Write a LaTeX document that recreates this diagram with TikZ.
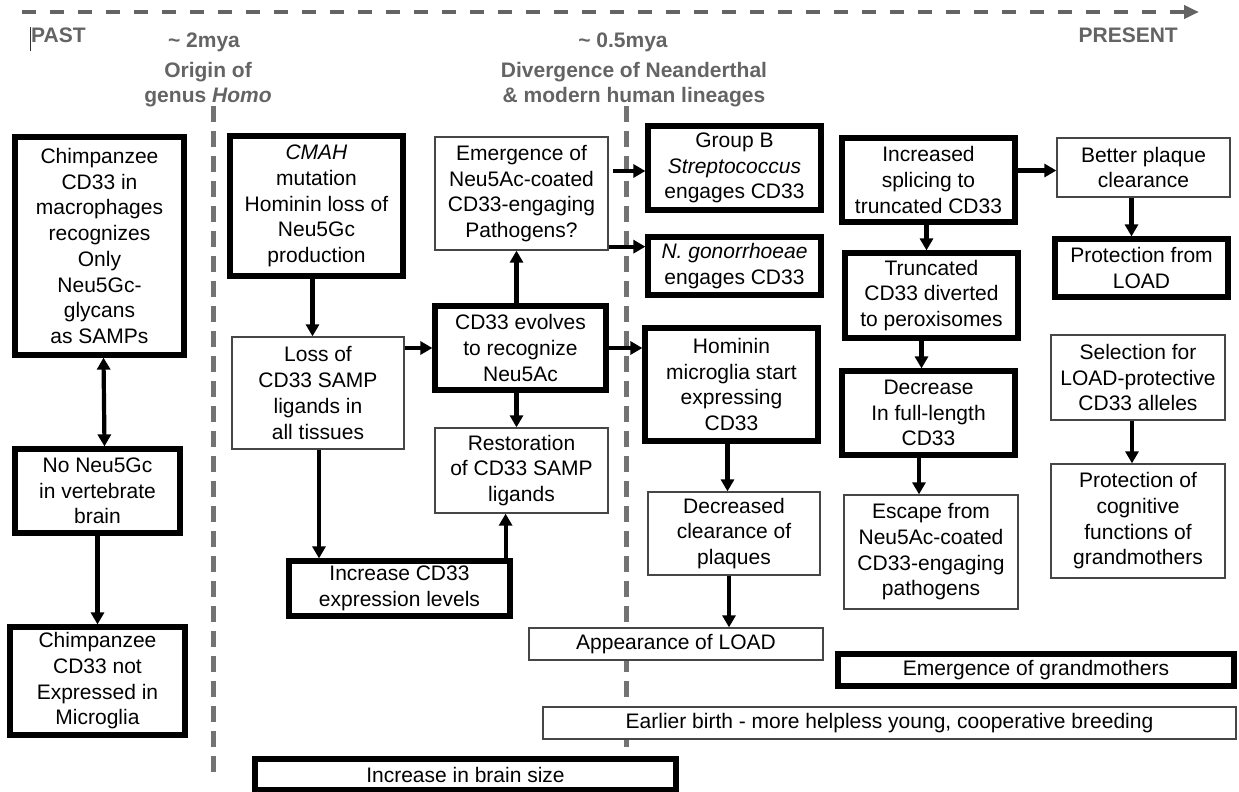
\documentclass[tikz,border=0pt]{standalone}
\usepackage{fontspec}
\setmainfont{Liberation Sans}
\usetikzlibrary{positioning, calc, arrows.meta}

\definecolor{tlgray}{RGB}{100,100,100}
\definecolor{eragray}{RGB}{115,115,115}
\definecolor{boxgray}{RGB}{70,70,70}

\tikzset{
  box/.style={rectangle, align=center, inner sep=0pt, fill=white, font=\fontsize{21}{25.7}\selectfont},
  thickbox/.style={box, draw=black, line width=5.2pt},
  thinbox/.style={box, draw=boxgray, line width=1.3pt},
  >={Triangle[length=12pt,width=13pt]},
  arr/.style={draw=black, line width=4.2pt, ->},
  era/.style={draw=eragray, line width=5pt, dash pattern=on 16pt off 9pt},
  lbl/.style={text=tlgray, align=center, inner sep=0pt, font=\bfseries\fontsize{21}{25}\selectfont},
}

\begin{document}
\begin{tikzpicture}[x=1pt, y=-1pt]
\useasboundingbox (0,0) rectangle (1239,792);

% time axis
\coordinate (tstart) at (22,12);
\coordinate (tend) at (1199,12);
\draw[draw=tlgray, line width=4.5pt, dash pattern=on 14pt off 14pt, -{Triangle[length=15pt,width=13pt]}] (tstart) -- (tend);
\draw[line width=0.7pt, black!80] (30,27) -- (30,51);

\node[lbl, anchor=west] (past) at (31,35) {PAST};
\node[lbl, anchor=east] (present) at (1178,35) {PRESENT};
\node[lbl] (mya2) at (204,42) {\textasciitilde\ 2mya};
\node[lbl] (origin) at (208,84.5) {Origin of\\genus \textit{Homo}};
\node[lbl] (mya05) at (623,42) {\textasciitilde\ 0.5mya};
\node[lbl] (diverg) at (634,84.5) {Divergence of Neanderthal\\\& modern human lineages};

% eras
\draw[era] (213,106) -- (213,773);
\draw[era] (626,106) -- (626,790);

% chimpanzee column
\node[thickbox, minimum width=169pt, minimum height=218pt] (chimp) at (99.5,246) {Chimpanzee\\CD33 in\\macrophages\\recognizes\\Only\\Neu5Gc-\\glycans\\as SAMPs};
\node[thickbox, minimum width=165pt, minimum height=84pt] (noneu) at (97.5,491) {No Neu5Gc\\in vertebrate\\brain};
\node[thickbox, minimum width=175pt, minimum height=108pt] (chimpmg) at (97.5,681) {Chimpanzee\\CD33 not\\Expressed in\\Microglia};

% genus Homo
\node[thickbox, minimum width=173pt, minimum height=140pt] (cmah) at (316.5,206) {\textit{CMAH}\\mutation\\Hominin loss of\\Neu5Gc\\production};
\node[thinbox, minimum width=172pt, minimum height=112pt] (loss) at (318,393) {Loss of\\CD33 SAMP\\ligands in\\all tissues};
\node[thickbox, minimum width=221pt, minimum height=55pt] (incr) at (399.5,588.5) {Increase CD33\\expression levels};
\node[thinbox, minimum width=173pt, minimum height=113pt] (emerge) at (521.5,193.5) {Emergence of\\Neu5Ac-coated\\CD33-engaging\\Pathogens?};
\node[thickbox, minimum width=171pt, minimum height=84pt] (evolve) at (520.5,348) {CD33 evolves\\to recognize\\Neu5Ac};
\node[thinbox, minimum width=173pt, minimum height=85pt] (restore) at (521.5,470.5) {Restoration\\of CD33 SAMP\\ligands};
\node[thickbox, minimum width=421pt, minimum height=31pt] (brain) at (465.5,774.5) {Increase in brain size};

% after divergence
\node[thickbox, minimum width=173pt, minimum height=84pt] (gbs) at (734.5,168) {Group B\\\textit{Streptococcus}\\engages CD33};
\node[thickbox, minimum width=173pt, minimum height=58pt] (ngon) at (734.5,266) {\textit{N. gonorrhoeae}\\engages CD33};
\node[thickbox, minimum width=173pt, minimum height=113pt] (microglia) at (731.5,384.5) {Hominin\\microglia start\\expressing\\CD33};
\node[thinbox, minimum width=172pt, minimum height=83pt] (clear) at (734,533.5) {Decreased\\clearance of\\plaques};
\node[thinbox, minimum width=294pt, minimum height=32pt] (load) at (676,644) {Appearance of LOAD};
\node[thickbox, minimum width=396pt, minimum height=32pt] (grandma) at (1036,670) {Emergence of grandmothers};
\node[thinbox, minimum width=693pt, minimum height=32pt] (birth) at (889.5,723) {Earlier birth - more helpless young, cooperative breeding};

\node[thickbox, minimum width=173pt, minimum height=84pt] (splice) at (928.5,180) {Increased\\splicing to\\truncated CD33};
\node[thickbox, minimum width=173pt, minimum height=85pt] (trunc) at (931.5,295.5) {Truncated\\CD33 diverted\\to peroxisomes};
\node[thickbox, minimum width=173pt, minimum height=84pt] (fulllen) at (928.5,413) {Decrease\\In full-length\\CD33};
\node[thinbox, minimum width=174pt, minimum height=114pt] (escape) at (931,552) {Escape from\\Neu5Ac-coated\\CD33-engaging\\pathogens};
\node[thinbox, minimum width=173pt, minimum height=59pt] (plaque) at (1143.5,167.5) {Better plaque\\clearance};
\node[thickbox, minimum width=173pt, minimum height=58pt] (protect) at (1141.5,268) {Protection from\\LOAD};
\node[thinbox, minimum width=174pt, minimum height=85pt] (select) at (1138,377.5) {Selection for\\LOAD-protective\\CD33 alleles};
\node[thinbox, minimum width=174pt, minimum height=114pt] (cognit) at (1138,521) {Protection of\\cognitive\\functions of\\grandmothers};

% connectors
\coordinate (c1) at ([xshift=4pt]chimp.south);
\coordinate (c2) at ([xshift=7pt]noneu.north);
\draw[arr, <->] (c1) -- (c2);
\draw[arr] (noneu.south) -- (noneu.south |- chimpmg.north);

\coordinate (c3) at ([xshift=-4pt]cmah.south);
\draw[arr] (c3) -- (c3 |- loss.north);
\coordinate (c4) at ([xshift=1pt]loss.south);
\draw[arr] (c4) -- (c4 |- incr.north);
\coordinate (c5) at ([xshift=-7pt]incr.north east);
\draw[arr] (c5) -- (c5 |- restore.south);
\draw[arr] (evolve.west -| loss.east) -- (evolve.west);
\coordinate (c6) at ([xshift=-4pt]evolve.north);
\draw[arr] (c6) -- (c6 |- emerge.south);
\coordinate (c7) at ([xshift=-4pt]evolve.south);
\draw[arr] (c7) -- (c7 |- restore.north);
\draw[arr] (evolve.east) -- (evolve.east -| microglia.west);
\coordinate (c8) at ([yshift=-3pt]gbs.west);
\draw[arr, shorten <=4pt] (c8 -| emerge.east) -- (c8);
\coordinate (c9) at ([yshift=4pt]emerge.south east);
\draw[arr] (c9) -- (c9 -| ngon.west);

\coordinate (c10) at ([xshift=-4pt]microglia.south);
\draw[arr] (c10) -- (c10 |- clear.north);
\coordinate (c11) at ([xshift=-5pt]clear.south);
\draw[arr] (c11) -- (c11 |- load.north);

\coordinate (c12) at ([yshift=-3pt]plaque.west);
\draw[arr] (c12 -| splice.east) -- (c12);
\coordinate (c13) at ([xshift=-2pt]splice.south);
\draw[arr] (c13) -- (c13 |- trunc.north);
\coordinate (c14) at ([xshift=-10pt]trunc.south);
\draw[arr] (c14) -- (c14 |- fulllen.north);
\coordinate (c15) at ([xshift=-9.5pt]fulllen.south);
\draw[arr] (c15) -- (c15 |- escape.north);
\coordinate (c16) at ([xshift=-12pt]plaque.south);
\draw[arr] (c16) -- (c16 |- protect.north);
\coordinate (c17) at ([xshift=-6pt]select.south);
\draw[arr] (c17) -- (c17 |- cognit.north);
\end{tikzpicture}
\end{document}
